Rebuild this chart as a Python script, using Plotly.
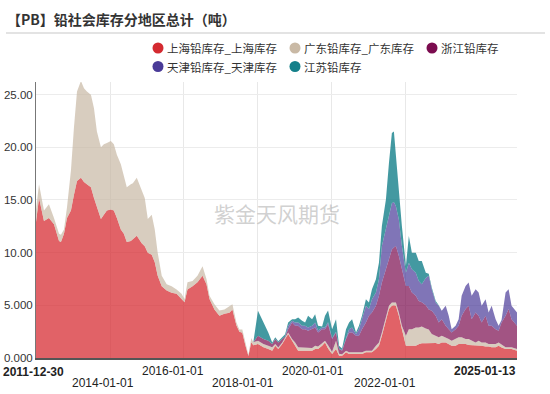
import plotly.graph_objects as go

# ---------------- data ----------------
dates_2012_2017 = [
    "2011-12-30", "2012-01-29", "2012-03-18", "2012-05-06", "2012-06-25", "2012-08-14",
    "2012-09-02", "2012-10-02", "2012-11-01", "2012-12-10", "2013-01-09", "2013-02-08",
    "2013-03-19", "2013-04-18", "2013-05-17", "2013-06-26", "2013-07-26", "2013-08-24",
    "2013-10-03", "2013-11-01", "2013-12-01", "2014-01-09", "2014-02-08", "2014-03-10",
    "2014-04-18", "2014-05-18", "2014-06-16", "2014-07-26", "2014-08-15", "2014-09-23",
    "2014-11-11", "2014-12-11", "2015-01-10", "2015-02-18", "2015-03-20", "2015-04-18",
    "2015-05-28", "2015-07-16", "2015-09-03", "2015-10-22", "2015-12-10", "2016-01-09",
    "2016-02-07", "2016-03-28", "2016-05-16", "2016-07-05", "2016-08-13", "2016-09-12",
    "2016-10-31", "2016-12-19", "2017-02-07", "2017-03-28", "2017-04-27", "2017-06-05",
    "2017-07-05", "2017-08-03", "2017-09-02", "2017-10-02", "2017-10-31", "2017-11-20",
]
shanghai_2012_2017 = [
    12.9, 15.2, 13.0, 13.3, 12.7, 11.1, 11.0, 11.8, 13.3, 14.0, 15.5, 16.8,
    17.1, 16.7, 16.5, 16.2, 15.2, 14.3, 13.2, 13.6, 14.0, 14.1, 14.0, 13.3,
    12.2, 11.8, 11.0, 11.1, 11.3, 11.6, 10.9, 10.6, 10.0, 9.8, 9.1, 7.8,
    6.8, 6.4, 6.2, 6.1, 5.6, 5.3, 6.5, 6.8, 7.2, 7.8, 7.0, 5.6,
    4.6, 4.0, 4.2, 4.3, 4.6, 3.1, 2.5, 2.4, 1.2, 0.2, 1.5, 1.2,
]
guangdong_2012_2017 = [
    1.2, 1.3, 1.0, 1.3, 0.6, 0.7, 0.7, 0.4, 1.0, 3.8, 6.4, 8.5,
    9.2, 8.9, 8.8, 8.8, 8.5, 7.2, 6.8, 6.7, 6.4, 6.5, 6.3, 6.0,
    6.2, 5.6, 5.2, 5.4, 5.3, 5.5, 5.1, 4.6, 3.2, 3.8, 3.1, 2.2,
    1.0, 0.6, 0.6, 0.4, 0.5, 0.3, 0.7, 0.5, 0.6, 0.9, 0.5, 0.3,
    0.5, 0.5, 0.4, 0.6, 0.5, 0.3, 0.2, 0.3, 0.3, 0.1, 0.4, 0.3,
]

dates_2018_2025 = [
    "2018-01-05", "2018-01-29", "2018-02-28", "2018-04-17", "2018-05-26", "2018-06-25",
    "2018-07-25", "2018-09-02", "2018-10-01", "2018-10-31", "2018-12-09",
    "2019-01-08", "2019-02-07", "2019-03-18", "2019-04-17", "2019-05-16", "2019-06-25",
    "2019-07-25", "2019-08-23", "2019-10-02", "2019-10-31", "2019-11-30",
    "2020-01-09", "2020-02-17", "2020-03-18", "2020-04-17", "2020-05-26", "2020-06-25",
    "2020-07-25", "2020-09-02", "2020-10-01", "2020-10-31", "2020-12-09",
    "2021-01-08", "2021-02-07", "2021-03-18", "2021-04-17", "2021-05-16", "2021-06-25",
    "2021-07-25", "2021-08-23", "2021-09-12", "2021-10-02", "2021-10-31", "2021-11-30",
    "2022-01-09", "2022-02-07", "2022-03-09", "2022-04-17", "2022-05-16", "2022-06-15",
    "2022-07-25", "2022-08-23", "2022-09-22", "2022-10-31", "2022-11-30", "2022-12-30",
    "2023-02-07", "2023-03-09", "2023-04-07", "2023-05-16", "2023-06-15", "2023-07-15",
    "2023-08-23", "2023-09-22", "2023-10-22", "2023-11-30", "2023-12-30",
    "2024-01-29", "2024-03-08", "2024-04-07", "2024-05-07", "2024-06-15", "2024-07-15",
    "2024-08-13", "2024-09-22", "2024-10-22", "2024-11-20", "2025-01-13",
]
shanghai_2018_2025 = [
    1.32, 1.17, 1.01, 0.85, 0.69, 1.17, 0.85, 1.32, 1.80, 2.27, 1.64,
    1.17, 0.69, 0.69, 0.69, 0.69, 0.69, 0.85, 0.85, 1.17, 1.48, 0.90,
    0.38, 0.85, 0.22, 0.22, 0.54, 0.38, 0.38, 0.38, 0.38, 0.38, 0.54,
    0.54, 0.54, 0.85, 1.17, 2.11, 3.69, 4.64, 4.95, 5.00, 4.95, 4.00, 2.74,
    1.17, 1.17, 1.17, 1.17, 1.30, 1.40, 1.40, 1.40, 1.42, 1.42, 1.32, 1.48,
    1.48, 1.32, 1.17, 1.17, 1.32, 1.32, 1.32, 1.23, 1.23, 1.17, 1.17,
    1.17, 1.10, 1.10, 1.01, 1.01, 1.17, 1.00, 0.85, 0.85, 0.85, 0.69,
]
guangdong_2018_2025 = [
    0.32, 0.31, 0.31, 0.32, 0.32, 0.15, 0.15, 0.16, 0.10, 0.16, 0.16,
    0.31, 0.32, 0.32, 0.26, 0.26, 0.26, 0.32, 0.25, 0.23, 0.16, 0.30,
    0.22, 0.79, 0.18, 0.13, 0.15, 0.16, 0.16, 0.16, 0.16, 0.16, 0.15,
    0.15, 0.15, 0.32, 0.31, 0.32, 0.31, 0.31, 0.32, 0.30, 0.32, 0.32, 0.32,
    0.94, 1.57, 1.57, 1.73, 1.60, 1.60, 1.40, 1.30, 0.85, 0.69, 0.64, 0.63,
    0.48, 0.48, 0.47, 0.63, 0.64, 0.64, 0.48, 0.57, 0.41, 0.31, 0.47,
    0.31, 0.38, 0.22, 0.31, 0.31, 0.31, 0.25, 0.16, 0.16, 0.16, 0.16,
]
zhejiang_2018_2025 = [
    0.47, 0.48, 0.48, 0.47, 0.31, 0.48, 0.48, 0.32, 0.15, 0.31, 1.58,
    1.58, 2.05, 1.73, 1.79, 1.63, 1.79, 1.73, 1.33, 1.34, 1.10, 2.00,
    1.20, 0.79, 0.45, 0.34, 1.11, 1.89, 1.89, 1.57, 1.57, 2.20, 2.69,
    3.31, 3.63, 3.78, 4.42, 4.73, 4.42, 4.42, 5.03, 5.20, 5.36, 5.36, 5.36,
    4.73, 4.10, 3.47, 3.00, 2.50, 2.30, 2.20, 1.90, 2.21, 1.89, 1.42, 1.58,
    1.10, 0.94, 0.79, 0.94, 1.10, 2.04, 2.84, 3.15, 2.05, 2.84, 2.36,
    1.90, 2.52, 1.74, 1.74, 1.42, 1.10, 2.13, 2.99, 3.63, 2.68, 2.21,
]
tianjin_2018_2025 = [
    None, None, None, None, None, None, None, None, None, 0.32, 0.15,
    0.32, 0.32, 0.32, 0.32, 0.32, 0.32, 0.48, 0.17, 0.16, 0.16, 0.20,
    0.10, 0.07, 0.05, 0.06, 0.16, 0.31, 0.47, 0.16, 0.63, 0.95, 1.57,
    0.64, 1.26, 1.26, 1.57, 3.47, 3.78, 4.10, 4.40, 4.30, 3.77, 3.47, 2.21,
    1.26, 2.21, 2.21, 2.20, 1.90, 1.70, 2.60, 3.20, 2.05, 1.27, 1.57, 0.79,
    1.89, 1.26, 0.31, 0.32, 0.63, 1.90, 2.20, 2.21, 2.21, 2.21, 2.21,
    1.57, 1.58, 1.26, 1.89, 0.95, 0.48, 0.22, 2.21, 1.89, 1.26, 1.26,
]
jiangsu_2018_2025 = [
    2.37, 2.04, 1.58, 0.79, 0.16, 0.16, 0.12, 0.20, 0.20, 0.32, 0.16,
    0.31, 0.47, 0.47, 0.32, 1.10, 0.63, 0.78, 0.46, 0.10, 1.10, 1.10,
    0.84, 1.19, 0.27, 0.15, 0.78, 0.64, 0.79, 0.16, 0.32, 0.31, 0.63,
    0.63, 0.95, 1.26, 1.58, 1.89, 2.84, 5.03, 6.65, 6.70, 4.70, 2.85, 1.89,
    0.63, 2.52, 1.58, 1.90, 1.90, 2.20, 0.50, 0.20, 0.16, 0.15, 0.05, None,
    None, None, None, None, None, None, None, None, None, None, None,
    None, None, None, None, None, None, None, None, None, None, None,
]

dates = dates_2012_2017 + dates_2018_2025
n_early = len(dates_2012_2017)
shanghai = shanghai_2012_2017 + shanghai_2018_2025
guangdong = guangdong_2012_2017 + guangdong_2018_2025
zhejiang = [None] * n_early + zhejiang_2018_2025
tianjin = [None] * n_early + tianjin_2018_2025
jiangsu = [None] * n_early + jiangsu_2018_2025

series_names = ["上海铅库存_上海库存", "广东铅库存_广东库存", "浙江铅库存",
                "天津铅库存_天津库存", "江苏铅库存"]
series_values = [shanghai, guangdong, zhejiang, tianjin, jiangsu]

title_text = "【PB】铅社会库存分地区总计（吨）"
watermark_text = "紫金天风期货"
y_tick_vals = [0, 5, 10, 15, 20, 25]
y_tick_text = ["0.000", "5.000", "10.00", "15.00", "20.00", "25.00"]
x_grid_dates = ["2014-01-01", "2016-01-01", "2018-01-01", "2020-01-01", "2022-01-01"]
x_start, x_end = "2011-12-30", "2025-01-13"

# ---------------- style ----------------
legend_colors = ["#d42a30", "#c9b9a5", "#7b0c4f", "#4a3b98", "#14808a"]
fill_colors = ["rgba(214,38,45,0.72)", "rgba(200,184,164,0.70)", "rgba(123,12,79,0.70)",
               "rgba(74,59,152,0.70)", "rgba(20,128,138,0.80)"]

W, H = 550, 394
ML, MR, MT, MB = 36, 33, 82, 36
PW, PH = W - ML - MR, H - MT - MB


def px_x(px):
    return (px - ML) / PW


def px_y(py):
    return (H - MB - py) / PH


fig = go.Figure()
for name, vals, fc in zip(series_names, series_values, fill_colors):
    fig.add_trace(go.Scatter(
        x=dates, y=vals, name=name, mode="lines", stackgroup="one",
        line=dict(width=0, color=fc), fillcolor=fc, showlegend=False,
        hoverinfo="x+y+name",
    ))

annotations = []
shapes = []

# watermark
annotations.append(dict(text=watermark_text, xref="paper", yref="paper",
                        x=px_x(277), y=px_y(213), showarrow=False,
                        font=dict(family="Noto Sans CJK SC", size=21, color="rgba(170,170,170,0.55)")))

# custom legend (dots + text)
legend_pos = [(158, 48), (295, 48), (432, 48), (158, 66.5), (295, 66.5)]
for (cx, cy), name, col in zip(legend_pos, series_names, legend_colors):
    shapes.append(dict(type="circle", xref="paper", yref="paper",
                       xsizemode="pixel", ysizemode="pixel",
                       xanchor=px_x(cx), yanchor=px_y(cy),
                       x0=-5.5, x1=5.5, y0=-5.5, y1=5.5,
                       fillcolor=col, line=dict(width=0)))
    annotations.append(dict(text=name, xref="paper", yref="paper",
                            x=px_x(cx + 7), y=px_y(cy), xanchor="left", yanchor="middle",
                            showarrow=False,
                            font=dict(family="Noto Sans CJK SC", size=11.5, color="#333333")))

# title separator line
shapes.append(dict(type="line", xref="paper", yref="paper",
                   x0=px_x(6), x1=px_x(545), y0=px_y(33), y1=px_y(33),
                   line=dict(color="#e3e3e3", width=2)))

# x-axis labels (two staggered rows, ends in bold)
x_labels = [
    ("<b>2011-12-30</b>", 33.5, 371.5, "center"),
    ("2014-01-01", 103, 383, "center"),
    ("2016-01-01", 173, 371, "center"),
    ("2018-01-01", 243, 383, "center"),
    ("2020-01-01", 313, 371, "center"),
    ("2022-01-01", 385, 383, "center"),
    ("<b>2025-01-13</b>", 518, 371, "right"),
]
for txt, lx, ly, anc in x_labels:
    annotations.append(dict(text=txt, xref="paper", yref="paper",
                            x=px_x(lx), y=px_y(ly), xanchor=anc, yanchor="middle",
                            showarrow=False,
                            font=dict(family="Liberation Sans, Arial", size=12, color="#222222")))

fig.update_layout(
    width=W, height=H,
    margin=dict(l=ML, r=MR, t=MT, b=MB, pad=0, autoexpand=False),
    paper_bgcolor="white", plot_bgcolor="white",
    title=dict(text=title_text, x=7 / W, xanchor="left", y=1 - 20 / H, yanchor="middle",
               font=dict(family="Noto Sans CJK SC", size=14, color="#333333", weight="bold")),
    showlegend=False,
    annotations=annotations,
    shapes=shapes,
    xaxis=dict(type="date", range=[x_start, x_end], tickvals=x_grid_dates, automargin=False,
               showticklabels=False, showgrid=True, gridcolor="#e8e8e8", gridwidth=1,
               showline=True, linecolor="#555555", linewidth=2, ticks="", zeroline=False),
    yaxis=dict(range=[0, 26.2], tickvals=y_tick_vals, ticktext=y_tick_text, automargin=False,
               showgrid=True, gridcolor="#ececec", gridwidth=1, zeroline=False,
               showline=True, linecolor="#777777", linewidth=1, ticks="",
               tickfont=dict(family="Liberation Sans, Arial", size=11.5, color="#333333")),
    hovermode="x unified",
)

fig.write_html("out.html", config={"displayModeBar": False},
               post_script="document.body.style.margin='0';")
